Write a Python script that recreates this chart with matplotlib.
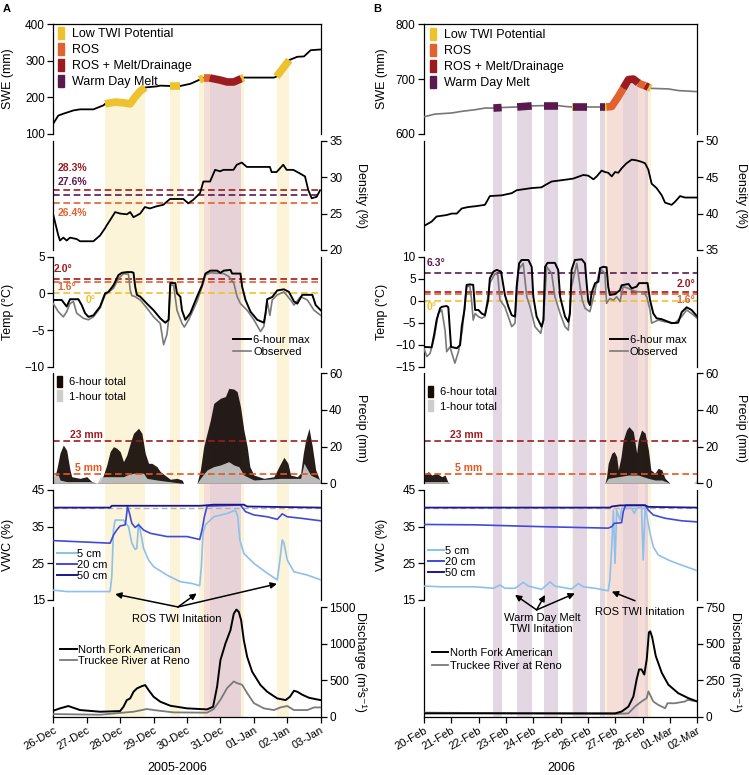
import numpy as np
import matplotlib.pyplot as plt
import matplotlib.transforms as mtransforms
from matplotlib.patches import Patch
from matplotlib.lines import Line2D

plt.rcParams['font.family'] = ['Liberation Sans', 'DejaVu Sans']
plt.rcParams['axes.linewidth'] = 0.9

# colours of the event classes and their background shading
YEL, ROS, RMD, WDM = '#EEC22E', '#E0622F', '#9B1C20', '#5B1A4F'
SH_YEL, SH_ROS, SH_RMD, SH_WDM = '#FBF4D8', '#F5DED8', '#E7D3D7', '#E3D7E3'
C5, C20, C50 = '#8DC0EC', '#3F4BD8', '#1C168C'

# ---------------- panel A : 26-Dec-2005 .. 03-Jan-2006 (days since 26-Dec)
a_dates = ['26-Dec', '27-Dec', '28-Dec', '29-Dec', '30-Dec', '31-Dec', '01-Jan', '02-Jan', '03-Jan']

a_yel = [(1.55, 2.75), (3.48, 3.80), (4.37, 4.50), (5.62, 5.70), (6.68, 7.06)]
a_ros = [(4.50, 4.68)]
a_rmd = [(4.68, 5.62)]

a_swe_x = [0, 0.15, 0.30, 0.60, 0.80, 1.20, 1.50, 1.55, 1.85, 2.10, 2.30, 2.45, 2.60, 2.75, 3.10, 3.20, 3.48, 3.80,
           4.10, 4.30, 4.37, 4.50, 4.68, 5.00, 5.20, 5.40, 5.62, 5.70, 6.60, 6.68, 7.06, 7.30, 7.50, 7.70, 8.00]
a_swe_y = [128, 150, 155, 164, 167, 167, 178, 182, 187, 185, 182, 201, 217, 227, 230, 232, 231, 231,
           237, 245, 248, 253, 253, 247, 242, 242, 251, 254, 254, 257, 302, 311, 312, 329, 331]

a_den_x = [0, 0.15, 0.20, 0.30, 0.40, 0.50, 0.70, 0.80, 1.20, 1.40, 1.55, 1.60, 1.70, 1.85, 2.00, 2.20, 2.30, 2.40,
           2.60, 2.74, 2.89, 3.09, 3.29, 3.39, 3.49, 3.89, 4.04, 4.19, 4.39, 4.49, 4.69, 4.84, 4.99, 5.09, 5.39,
           5.49, 5.64, 5.79, 6.48, 6.53, 6.68, 6.88, 6.98, 7.18, 7.38, 7.53, 7.63, 7.73, 7.88, 7.98]
a_den_y = [24.8, 22.0, 21.3, 21.7, 21.3, 21.7, 21.5, 21.2, 21.2, 22.0, 23.0, 23.4, 24.1, 25.2, 25.0, 24.9, 25.2, 24.5,
           25.0, 25.9, 25.7, 26.0, 26.2, 26.6, 27.0, 27.0, 26.4, 26.9, 27.8, 29.4, 29.4, 31.0, 30.8, 31.0, 31.0,
           31.7, 32.0, 31.4, 31.4, 30.7, 30.7, 31.7, 31.0, 31.0, 30.5, 30.1, 28.2, 27.1, 27.3, 28.2]

a_tmax_x = [0, 0.25, 0.40, 0.50, 0.75, 0.85, 0.95, 1.05, 1.20, 1.40, 1.55, 1.65, 1.80, 1.95, 2.05, 2.20, 2.35, 2.40,
            2.45, 2.50, 2.60, 2.80, 3.00, 3.20, 3.35, 3.45, 3.50, 3.65, 3.70, 3.80, 3.85, 3.95, 4.10, 4.30, 4.45,
            4.55, 4.70, 4.90, 5.00, 5.10, 5.30, 5.35, 5.60, 5.65, 5.75, 5.90, 6.10, 6.30, 6.35, 6.40, 6.55, 6.70,
            6.90, 7.05, 7.20, 7.30, 7.45, 7.75, 7.85, 8.00]
a_tmax_y = [-0.9, -0.9, -1.8, -0.8, -0.8, -1.6, -2.7, -3.2, -3.0, -1.8, 0.0, 0.2, 1.1, 2.5, 2.8, 2.9, 2.9, 2.8,
            0.9, -0.2, -0.45, -1.4, -2.3, -3.4, -4.0, -3.6, 1.4, 1.4, 0.0, -0.45, -2.3, -3.6, -2.7, -0.45, 1.1,
            2.7, 3.1, 3.1, 2.8, 3.1, 3.2, 2.7, 2.7, 0.9, -0.9, -2.5, -3.6, -4.0, -2.7, -0.8, -0.5, 0.4,
            0.55, 0.2, -1.1, -1.4, -0.2, -0.2, -1.6, -2.3]
a_tobs_x = [0, 0.15, 0.30, 0.40, 0.50, 0.60, 0.70, 0.90, 1.05, 1.20, 1.40, 1.55, 1.80, 1.95, 2.10, 2.25, 2.30, 2.35,
            2.45, 2.60, 2.80, 3.00, 3.20, 3.30, 3.40, 3.45, 3.50, 3.60, 3.70, 3.85, 3.92, 4.05, 4.30, 4.45, 4.55,
            4.70, 5.10, 5.25, 5.40, 5.50, 5.60, 5.80, 6.00, 6.20, 6.30, 6.40, 6.48, 6.55, 6.70, 6.90, 7.10, 7.20,
            7.40, 7.60, 7.80, 8.00]
a_tobs_y = [-1.4, -2.5, -3.2, -2.5, -1.4, -1.1, -2.7, -3.4, -3.6, -3.2, -2.0, -0.2, 0.7, 2.0, 2.7, 2.6, 0.45, -0.3,
            -0.45, -0.9, -2.0, -3.2, -4.1, -7.0, -5.6, -3.6, 1.1, 1.1, -2.3, -4.1, -4.6, -3.6, -1.1, 0.9, 2.5,
            2.8, 2.7, 2.3, 1.4, -0.45, -1.4, -2.3, -3.6, -5.2, -4.5, -1.1, -3.0, -0.9, -0.2, 0.2, -0.9, -1.6,
            -0.45, -0.9, -2.3, -3.0]

a_p6_x = [0, 0.10, 0.20, 0.30, 0.40, 0.50, 0.55, 0.80, 1.00, 1.15, 1.30, 1.40, 1.50, 1.60, 1.70, 1.80, 1.90, 2.00,
          2.10, 2.20, 2.30, 2.40, 2.55, 2.65, 2.75, 2.85, 2.95, 3.10, 3.20, 3.40, 3.50, 3.70, 3.85, 3.90, 4.30,
          4.40, 4.50, 4.60, 4.70, 4.80, 5.00, 5.15, 5.25, 5.40, 5.50, 5.60, 5.70, 5.80, 5.88, 6.00, 6.30, 6.60,
          6.75, 6.90, 7.02, 7.10, 7.30, 7.40, 7.48, 7.55, 7.65, 7.75, 7.85, 7.95, 8.00]
a_p6_y = [0.9, 7.3, 16.4, 20.9, 18.0, 7.3, 3.6, 2.7, 3.6, 0.9, 0, 0.9, 4.5, 10.0, 17.3, 20.0, 19.1, 17.3,
          11.8, 15.5, 21.8, 27.3, 30.0, 27.3, 16.4, 10.9, 10.9, 9.1, 6.4, 3.6, 2.2, 2.7, 1.8, 0, 0,
          7.3, 20.0, 27.3, 34.5, 43.6, 46.4, 47.3, 51.8, 51.4, 50.0, 41.8, 29.1, 20.0, 9.1, 4.5, 2.7, 3.6,
          9.1, 14.2, 10.9, 4.5, 3.6, 5.5, 16.4, 23.6, 30.0, 20.0, 7.3, 2.7, 0.9]
a_p1_x = [0, 0.15, 0.20, 0.40, 1.10, 1.30, 1.40, 2.10, 2.20, 2.40, 2.70, 2.80, 3.10, 3.85, 4.30,
          4.40, 4.60, 4.80, 5.00, 5.25, 5.40, 5.55, 5.70, 6.00, 6.80, 7.00, 7.40, 7.50, 7.70, 8.00]
a_p1_y = [4.5, 4.5, 1.8, 0.9, 0.9, 0, 3.6, 3.6, 4.5, 5.5, 5.5, 2.7, 1.8, 0, 0,
          2.7, 7.3, 9.1, 10.0, 11.8, 10.0, 9.1, 4.5, 1.8, 2.7, 2.7, 2.7, 10.9, 4.5, 1.8]

a_v50_x = [0, 1.70, 1.75, 4.40, 4.55, 4.80, 5.70, 5.80, 8.00]
a_v50_y = [40.2, 40.2, 40.7, 40.7, 40.8, 41.0, 41.0, 40.5, 40.2]
a_v20_x = [0, 1.70, 1.80, 1.90, 2.00, 2.15, 2.18, 2.22, 2.28, 2.35, 2.45, 2.55, 2.70, 2.90, 3.40, 4.00, 4.38,
           4.45, 4.52, 4.60, 5.60, 5.75, 6.00, 6.40, 6.70, 6.85, 7.00, 7.40, 8.00]
a_v20_y = [31.2, 30.5, 32.7, 34.1, 35.2, 35.5, 37.3, 40.5, 38.6, 35.9, 34.8, 35.5, 34.1, 33.2, 32.3, 32.3, 31.5,
           34.1, 37.7, 40.6, 40.9, 39.1, 38.2, 37.7, 37.0, 38.5, 37.7, 37.3, 36.6]
a_v5_x = [0, 0.40, 1.70, 1.75, 1.80, 1.85, 2.10, 2.25, 2.35, 2.45, 2.50, 2.55, 2.60, 2.70, 2.85, 3.00, 3.40, 3.80,
          4.15, 4.38, 4.43, 4.48, 4.55, 4.80, 5.20, 5.45, 5.52, 5.58, 5.70, 6.00, 6.40, 6.70, 6.78, 6.85, 6.90,
          7.00, 7.20, 7.60, 8.00]
a_v5_y = [17.7, 17.3, 17.3, 21.4, 34.1, 36.8, 36.8, 35.0, 30.5, 28.8, 29.1, 35.9, 34.1, 29.1, 25.9, 24.1, 21.8, 20.0,
          19.5, 18.9, 24.1, 33.2, 35.5, 37.7, 38.6, 39.5, 37.7, 31.4, 27.7, 25.0, 22.3, 20.5, 25.9, 31.4, 30.5,
          25.9, 22.7, 21.8, 20.5]

a_nfa_x = [0, 0.20, 0.45, 0.55, 0.80, 1.40, 2.00, 2.10, 2.20, 2.30, 2.40, 2.50, 2.65, 2.75, 2.85, 3.00, 3.20, 3.50,
           4.00, 4.60, 4.78, 4.90, 5.00, 5.15, 5.30, 5.40, 5.48, 5.55, 5.62, 5.70, 5.80, 5.95, 6.20, 6.40, 6.70,
           6.95, 7.08, 7.20, 7.30, 7.45, 7.65, 7.85, 8.00]
a_nfa_y = [82, 114, 146, 130, 91, 68, 77, 136, 227, 250, 341, 386, 418, 432, 364, 273, 205, 150,
           114, 100, 136, 409, 773, 1001, 1183, 1410, 1465, 1432, 1319, 1046, 818, 614, 432, 341, 250,
           227, 273, 355, 341, 300, 259, 240, 227]
a_tru_x = [0, 1.40, 2.40, 2.80, 3.00, 3.60, 4.60, 4.80, 5.00, 5.20, 5.40, 5.50, 5.65, 5.80, 6.00, 6.30, 6.60,
           6.80, 7.00, 7.20, 7.60, 7.80, 8.00]
a_tru_y = [36, 27, 68, 105, 91, 59, 55, 105, 232, 391, 482, 459, 436, 323, 186, 114, 91,
           127, 146, 91, 91, 127, 127]

# ---------------- panel B : 20-Feb-2006 .. 02-Mar-2006 (days since 20-Feb)
b_dates = ['20-Feb', '21-Feb', '22-Feb', '23-Feb', '24-Feb', '25-Feb', '26-Feb', '27-Feb', '28-Feb', '01-Mar', '02-Mar']

b_wdm = [(2.54, 2.84), (3.41, 3.94), (4.40, 4.91), (5.46, 5.95), (6.45, 6.62)]
b_yel = [(5.40, 5.46), (6.62, 6.68), (8.21, 8.30)]
b_ros = [(6.68, 7.29), (7.84, 8.09)]
b_rmd = [(7.29, 7.84), (8.09, 8.21)]

b_swe_x = [0, 0.40, 1.01, 1.38, 1.87, 2.23, 2.54, 2.84, 3.41, 3.94, 4.40, 4.91, 5.15, 5.40, 5.46, 5.95, 6.45,
           6.62, 6.68, 6.87, 6.99, 7.11, 7.29, 7.48, 7.66, 7.84, 7.96, 8.09, 8.21, 8.30, 8.94, 9.30, 10.0]
b_swe_y = [631, 636, 638, 641, 644, 647, 647, 648, 649, 651, 651.5, 651.5, 650, 649, 649, 649, 649,
           649, 649, 650, 659, 668, 683, 699, 700, 693, 690, 688, 685, 683, 682, 679, 677]

b_den_x = [0, 0.28, 0.46, 0.65, 0.83, 1.01, 1.20, 1.38, 1.62, 1.87, 2.23, 2.41, 2.84, 3.21, 3.39, 3.94, 4.30, 4.43,
           4.67, 5.28, 5.46, 5.83, 6.01, 6.20, 6.32, 6.50, 6.62, 6.74, 6.87, 6.99, 7.11, 7.23, 7.41, 7.60, 7.78,
           7.96, 8.09, 8.21, 8.33, 8.51, 8.70, 8.82, 9.06, 9.18, 9.37, 9.55, 10.0]
b_den_y = [38.3, 38.9, 39.6, 39.7, 39.8, 40.0, 40.0, 40.7, 40.9, 41.0, 41.2, 42.4, 42.5, 42.8, 43.2, 43.5, 43.6, 43.9,
           44.4, 44.7, 44.8, 45.3, 45.2, 44.7, 45.1, 45.9, 45.7, 45.6, 45.1, 45.7, 45.6, 46.2, 46.9, 47.4, 47.3,
           47.1, 46.9, 46.0, 44.1, 43.5, 42.5, 41.5, 41.2, 41.6, 42.4, 42.2, 42.2]

b_tmax_x = [0, 0.28, 0.38, 0.46, 0.59, 0.65, 0.83, 0.89, 0.99, 1.20, 1.32, 1.38, 1.48, 1.56, 1.68, 1.80, 1.87,
            1.99, 2.11, 2.23, 2.35, 2.41, 2.54, 2.66, 2.82, 2.96, 3.09, 3.21, 3.33, 3.39, 3.48, 3.57, 3.82, 3.94,
            4.00, 4.12, 4.30, 4.37, 4.43, 4.52, 4.79, 4.91, 4.98, 5.16, 5.28, 5.34, 5.40, 5.52, 5.77, 5.89, 5.95,
            6.01, 6.07, 6.13, 6.26, 6.38, 6.44, 6.56, 6.68, 6.74, 6.80, 6.99, 7.17, 7.23, 7.48, 7.60, 7.78, 7.87,
            8.18, 8.27, 8.39, 8.51, 8.70, 8.82, 9.06, 9.30, 9.43, 9.61, 9.79, 10.0]
b_tmax_y = [-10.5, -10.6, -7.4, -4.4, -1.7, -1.4, -1.2, -1.5, -10.5, -10.8, -10.1, -5.9, -2.1, 3.6, 3.7, 3.6, -2.1,
            -2.1, -2.9, -3.3, 0.15, 5.1, 6.6, 7.0, 6.6, 1.3, -1.4, -3.3, -3.6, 3.2, 8.5, 9.25, 9.25, 7.7,
            0.9, -3.6, -5.9, -4.4, 7.7, 8.6, 8.6, 7.0, 0.9, -3.6, -4.8, -2.9, 7.0, 9.25, 9.4, 8.5, 4.0,
            -0.2, -1.0, 1.7, 4.0, 4.3, 7.4, 7.7, 7.6, 3.2, 1.3, 1.5, 2.4, 3.5, 3.8, 2.8, 3.2, 4.0,
            4.0, 0.15, -2.9, -4.0, -4.2, -4.5, -5.1, -5.0, -2.6, -1.5, -2.1, -3.6]
b_tobs_x = [0, 0.10, 0.22, 0.38, 0.52, 0.65, 0.77, 0.83, 0.95, 1.13, 1.26, 1.40, 1.56, 1.68, 1.74, 1.80, 1.87,
            1.99, 2.11, 2.23, 2.41, 2.60, 2.70, 2.78, 2.96, 3.21, 3.33, 3.45, 3.63, 3.76, 3.88, 4.06, 4.27, 4.37,
            4.49, 4.67, 4.79, 4.98, 5.16, 5.28, 5.40, 5.59, 5.71, 5.79, 5.89, 6.07, 6.26, 6.40, 6.50, 6.62, 6.68,
            6.80, 6.93, 7.05, 7.17, 7.29, 7.48, 7.60, 7.84, 8.02, 8.15, 8.27, 8.33, 8.57, 8.82, 9.18, 9.43, 9.61,
            9.79, 10.0]
b_tobs_y = [-10.8, -12.7, -12.0, -8.2, -2.9, -2.1, -6.7, -11.6, -10.5, -14.2, -11.6, -6.7, 3.2, 3.3, 0.15, -4.4, -2.9,
            -3.6, -4.0, -3.6, 4.0, 6.2, 5.8, 0.15, -1.4, -5.9, -5.1, 7.0, 8.5, 0.9, -1.4, -5.9, -7.4, -4.4,
            7.7, 6.2, 0.9, -2.9, -5.9, -6.7, 3.2, 8.5, 3.2, 0.15, -1.7, -2.5, 2.4, 6.2, 7.0, 6.2, -0.6,
            0.5, 0.15, 0.9, -0.2, 3.2, 2.8, 2.4, 2.0, 2.0, 0.9, -2.1, -5.1, -4.4, -4.8, -5.1, -3.6, -2.1,
            -2.9, -4.0]

b_p6_x = [0, 0.16, 0.28, 0.46, 0.65, 0.77, 0.87, 0.92, 6.62, 6.68, 6.74, 6.87, 6.96, 7.05, 7.11, 7.21, 7.29, 7.41,
          7.50, 7.66, 7.78, 7.84, 7.96, 8.09, 8.21, 8.30, 8.45, 8.57, 8.70, 8.82, 8.94, 9.00, 9.90, 9.97, 10.0]
b_p6_y = [4.5, 6.4, 4.5, 5.5, 3.6, 4.5, 0.9, 0, 0, 3.6, 10.9, 16.4, 17.3, 14.5, 7.3, 14.5, 23.6, 29.1,
          30.9, 28.2, 16.4, 23.6, 29.1, 27.3, 18.2, 7.3, 5.5, 8.2, 7.3, 2.7, 0.9, 0, 0, 0.9, 0.9]
b_p1_x = [0, 0.90, 0.92, 6.62, 6.74, 7.11, 7.48, 7.84, 8.21, 8.45, 8.70, 8.94, 9.00, 9.85, 9.95, 10.0]
b_p1_y = [0.9, 0.9, 0, 0, 2.7, 3.6, 4.5, 4.5, 2.7, 1.8, 1.8, 0.4, 0, 0, 1.8, 1.8]

b_v50_x = [0, 6.80, 6.87, 7.17, 8.09, 8.21, 10.0]
b_v50_y = [40.2, 40.2, 40.5, 40.8, 40.8, 40.4, 40.2]
b_v20_x = [0, 1.87, 4.30, 6.74, 6.87, 6.96, 7.23, 7.29, 7.38, 8.09, 8.21, 8.39, 8.82, 9.43, 10.0]
b_v20_y = [35.6, 35.5, 35.0, 34.6, 35.0, 35.9, 36.1, 39.1, 40.9, 40.9, 39.5, 38.2, 37.3, 36.6, 36.3]
b_v5_x = [0, 0.65, 1.87, 2.54, 2.78, 2.96, 3.33, 3.63, 3.82, 4.30, 4.61, 4.79, 5.40, 5.65, 5.83, 6.26, 6.74,
          6.80, 6.87, 6.93, 6.99, 7.05, 7.17, 7.23, 7.60, 7.70, 7.78, 7.96, 8.02, 8.09, 8.18, 8.27, 8.39, 8.57,
          8.94, 9.43, 10.0]
b_v5_y = [18.8, 18.6, 18.6, 18.2, 19.1, 18.2, 18.2, 19.8, 18.8, 17.9, 19.9, 18.8, 18.0, 19.5, 18.6, 18.2, 17.5,
          20.5, 29.5, 39.5, 25.0, 39.5, 36.8, 40.0, 40.0, 38.6, 40.0, 40.2, 25.9, 40.2, 36.8, 33.2, 29.5, 27.3,
          25.9, 24.5, 23.0]

b_nfa_x = [0, 6.99, 7.23, 7.48, 7.66, 7.78, 7.87, 7.96, 8.06, 8.15, 8.23, 8.28, 8.35, 8.48, 8.70, 8.94, 9.30, 9.67, 10.0]
b_nfa_y = [23, 23, 35, 69, 138, 254, 323, 323, 288, 392, 577, 584, 542, 415, 300, 219, 161, 127, 104]
b_tru_x = [0, 6.99, 7.48, 7.72, 7.96, 8.15, 8.21, 8.27, 8.39, 8.57, 8.82, 8.91, 9.18, 9.55, 9.65, 10.0]
b_tru_y = [28, 18, 23, 69, 104, 127, 173, 150, 104, 81, 58, 92, 92, 104, 115, 104]

# thresholds
a_den_thr = [(28.3, RMD, '28.3%'), (27.6, WDM, '27.6%'), (26.4, ROS, '26.4%')]
a_tmp_thr = [(2.0, RMD), (1.6, ROS), (0.0, YEL)]
b_tmp_thr = [(6.3, WDM), (2.0, RMD), (1.6, ROS), (0.0, YEL)]
p_thr = [(23, RMD), (5, '#E8561C')]

W, H = 749, 775
fig = plt.figure(figsize=(W / 100, H / 100), dpi=100)

# pixel rows of every panel's tick range, and the side carrying ticks
ROWS = [(24.3, 133.8), (140.7, 250.0), (256.7, 366.7), (373.3, 483.3), (490.0, 600.0), (607.0, 716.7)]
SIDES = ['left', 'right', 'left', 'right', 'left', 'right']


def column(x0, x1, ndays, ticks_list, dates):
    axes = []
    n = len(ROWS)
    for i, (pt, pb) in enumerate(ROWS):
        at = pt if i == 0 else (ROWS[i - 1][1] + pt) / 2
        ab = pb if i == n - 1 else (pb + ROWS[i + 1][0]) / 2
        ax = fig.add_axes([x0 / W, 1 - ab / H, (x1 - x0) / W, (ab - at) / H])
        ticks = ticks_list[i]
        vb, vt = ticks[0], ticks[-1]
        s = (vt - vb) / (pb - pt)
        ax.set_ylim(vb - (ab - pb) * s, vt + (pt - at) * s)
        ax.set_xlim(0, ndays)
        ax.set_yticks(ticks)
        ax.set_facecolor('none')
        ax.spines['left'].set_bounds(vb, vt)
        ax.spines['right'].set_bounds(vb, vt)
        ax.spines['top'].set_visible(i == 0)
        ax.spines['bottom'].set_visible(i == n - 1)
        side = SIDES[i]
        ax.yaxis.set_label_position(side)
        ax.tick_params(axis='y', left=side == 'left', labelleft=side == 'left',
                       right=side == 'right', labelright=side == 'right',
                       direction='out', length=4, width=0.9, labelsize=8.5, pad=2)
        ax.tick_params(axis='x', bottom=i == n - 1, labelbottom=i == n - 1,
                       direction='out', length=4, width=0.9, labelsize=8, pad=2)
        axes.append(ax)
    axes[-1].set_xticks(range(ndays + 1))
    axes[-1].set_xticklabels(dates, rotation=30, ha='right', rotation_mode='anchor')
    return axes


def ylab(ax, text, xpos, mid):
    side = ax.yaxis.get_label_position()
    ax.set_ylabel(text, fontsize=9, rotation=90 if side == 'left' else 270, va='center', ha='center')
    tr = mtransforms.blended_transform_factory(ax.transAxes, ax.transData)
    ax.yaxis.set_label_coords(xpos, mid, transform=tr)


def shade(axes, spans, color):
    for ax in axes:
        for s, e in spans:
            ax.axvspan(s, e, color=color, lw=0, zorder=0)


def seg(ax, x, y, spans, color):
    x = np.asarray(x)
    y = np.asarray(y)
    for s, e in spans:
        m = (x >= s - 1e-6) & (x <= e + 1e-6)
        ax.plot(x[m], y[m], color=color, lw=5.5, solid_capstyle='butt', zorder=4)


def hline(ax, v, c):
    ax.axhline(v, color=c, lw=1.2, ls=(0, (4, 2.2)), zorder=2)


def leg(ax, handles, labels, px, py, fs=8, **kw):
    ax.legend(handles, labels, loc='upper left', bbox_to_anchor=(px / W, 1 - py / H),
              bbox_transform=fig.transFigure, frameon=False, fontsize=fs, borderpad=0,
              borderaxespad=0, **kw)


def arrow(ax_from, ax_to, start, end):
    ax_from.annotate('', xy=end, xycoords=ax_to.transData, xytext=start, textcoords=ax_to.transData,
                     arrowprops=dict(arrowstyle='-|>', color='black', lw=1.1, shrinkA=0, shrinkB=0,
                                     mutation_scale=9), annotation_clip=False)


swe_handles = [Patch(color=YEL), Patch(color=ROS), Patch(color=RMD), Patch(color=WDM)]
swe_labels = ['Low TWI Potential', 'ROS', 'ROS + Melt/Drainage', 'Warm Day Melt']
swe_kw = dict(handlelength=0.45, handleheight=1.1, handletextpad=0.7, labelspacing=0.22)

# ================= panel A
A = column(53.3, 320.7, 8, [[100, 200, 300, 400], [20, 25, 30, 35], [-10, -5, 0, 5], [0, 20, 40, 60],
                            [15, 25, 35, 45], [0, 500, 1000, 1500]], a_dates)
shade(A, a_yel, SH_YEL)
shade(A, a_ros, SH_ROS)
shade(A, a_rmd, SH_RMD)

ax = A[0]
ax.fill_between(a_swe_x, a_swe_y, 400, color='white', lw=0, zorder=1)
ax.plot(a_swe_x, a_swe_y, color='black', lw=1.3, zorder=3)
seg(ax, a_swe_x, a_swe_y, a_yel, YEL)
seg(ax, a_swe_x, a_swe_y, a_ros, ROS)
seg(ax, a_swe_x, a_swe_y, a_rmd, RMD)
leg(ax, swe_handles, swe_labels, 58, 27, fs=9, **swe_kw)
ylab(ax, 'SWE (mm)', -0.17, 250)

ax = A[1]
for v, c, t in a_den_thr:
    hline(ax, v, c)
ax.plot(a_den_x, a_den_y, color='black', lw=1.3, zorder=3)
ax.text(0.14, 31.2, '28.3%', color=RMD, fontsize=7.5, fontweight='bold', va='center')
ax.text(0.14, 29.4, '27.6%', color=WDM, fontsize=7.5, fontweight='bold', va='center')
ax.text(0.14, 25.1, '26.4%', color=ROS, fontsize=7.5, fontweight='bold', va='center')
ylab(ax, 'Density (%)', 1.15, 27.5)

ax = A[2]
for v, c in a_tmp_thr:
    hline(ax, v, c)
ax.plot(a_tobs_x, a_tobs_y, color='#7a7a7a', lw=1.2, zorder=3)
ax.plot(a_tmax_x, a_tmax_y, color='black', lw=1.4, zorder=3)
ax.text(0.02, 3.3, '2.0°', color=RMD, fontsize=7.5, fontweight='bold', va='center')
ax.text(0.12, 0.9, '1.6°', color=ROS, fontsize=7.5, fontweight='bold', va='center')
ax.text(0.98, -0.9, '0°', color=YEL, fontsize=7.5, fontweight='bold', va='center')
leg(ax, [Line2D([], [], color='black', lw=1.4), Line2D([], [], color='#7a7a7a', lw=1.2)],
    ['6-hour max', 'Observed'], 233, 335, handlelength=1.6, handletextpad=0.2, labelspacing=0.2)
ylab(ax, 'Temp (°C)', -0.17, -2.5)

ax = A[3]
ax.fill_between(a_p6_x, a_p6_y, color='#150c08', alpha=0.93, lw=0, zorder=2)
ax.fill_between(a_p1_x, a_p1_y, color='#cdcdcd', alpha=0.9, lw=0, zorder=2)
for v, c in p_thr:
    hline(ax, v, c)
ax.text(0.5, 26.3, '23 mm', color=RMD, fontsize=7.5, fontweight='bold', va='center')
ax.text(0.65, 8.6, '5 mm', color='#E8561C', fontsize=7.5, fontweight='bold', va='center')
leg(ax, [Patch(color='#150c08'), Patch(color='#cdcdcd')], ['6-hour total', '1-hour total'], 57, 376,
    handlelength=0.45, handleheight=1.1, handletextpad=0.6, labelspacing=0.3)
ylab(ax, 'Precip (mm)', 1.15, 30)

ax = A[4]
ax.axhline(40, color='#b0b0b0', lw=1.0, ls=(0, (4, 2.5)), zorder=2)
ax.plot(a_v5_x, a_v5_y, color=C5, lw=1.2, zorder=3)
ax.plot(a_v20_x, a_v20_y, color=C20, lw=1.2, zorder=3)
ax.plot(a_v50_x, a_v50_y, color=C50, lw=1.3, zorder=3)
leg(ax, [Line2D([], [], color=C5, lw=1.4), Line2D([], [], color=C20, lw=1.4), Line2D([], [], color=C50, lw=1.4)],
    ['5 cm', '20 cm', '50 cm'], 56.7, 549, handlelength=1.8, handletextpad=0.05, labelspacing=0.08)
ylab(ax, 'VWC (%)', -0.17, 30)

ax = A[5]
ax.plot(a_tru_x, a_tru_y, color='#7a7a7a', lw=1.3, zorder=3)
ax.plot(a_nfa_x, a_nfa_y, color='black', lw=1.4, zorder=3)
leg(ax, [Line2D([], [], color='black', lw=1.4), Line2D([], [], color='#7a7a7a', lw=1.3)],
    ['North Fork American', 'Truckee River at Reno'], 60, 645, handlelength=1.5, handletextpad=0.15, labelspacing=0.1)
ylab(ax, 'Discharge (m³s⁻¹)', 1.15, 750)
ax.text(3.69, 1333, 'ROS TWI Initation', fontsize=8, ha='center', va='center')
for tgt in [(1.85, 16.6), (4.29, 16.8), (6.69, 19.4)]:
    arrow(ax, A[4], (3.73, 13.1), tgt)

# ================= panel B
B = column(424.0, 697.3, 10, [[600, 700, 800], [35, 40, 45, 50], [-15, -10, -5, 0, 5, 10], [0, 20, 40, 60],
                             [15, 25, 35, 45], [0, 250, 500, 750]], b_dates)
shade(B, b_wdm, SH_WDM)
shade(B, b_yel, SH_YEL)
shade(B, b_ros, SH_ROS)
shade(B, b_rmd, SH_RMD)

ax = B[0]
ax.fill_between(b_swe_x, b_swe_y, 800, color='white', lw=0, zorder=1)
ax.plot(b_swe_x, b_swe_y, color='#777777', lw=1.2, zorder=3)
seg(ax, b_swe_x, b_swe_y, b_wdm, WDM)
seg(ax, b_swe_x, b_swe_y, b_yel, YEL)
seg(ax, b_swe_x, b_swe_y, b_ros, ROS)
seg(ax, b_swe_x, b_swe_y, b_rmd, RMD)
leg(ax, swe_handles, swe_labels, 430, 28, fs=9, **swe_kw)
ylab(ax, 'SWE (mm)', -0.155, 700)

ax = B[1]
ax.plot(b_den_x, b_den_y, color='black', lw=1.3, zorder=3)
ylab(ax, 'Density (%)', 1.16, 42.5)

ax = B[2]
for v, c in b_tmp_thr:
    hline(ax, v, c)
ax.plot(b_tobs_x, b_tobs_y, color='#7a7a7a', lw=1.2, zorder=3)
ax.plot(b_tmax_x, b_tmax_y, color='black', lw=1.4, zorder=3)
ax.text(0.1, 8.5, '6.3°', color=WDM, fontsize=7.5, fontweight='bold', va='center')
ax.text(9.92, 3.8, '2.0°', color=RMD, fontsize=7.5, fontweight='bold', va='center', ha='right')
ax.text(9.92, 0.2, '1.6°', color=ROS, fontsize=7.5, fontweight='bold', va='center', ha='right')
ax.text(0.1, -1.5, '0°', color=YEL, fontsize=7.5, fontweight='bold', va='center')
leg(ax, [Line2D([], [], color='black', lw=1.4), Line2D([], [], color='#7a7a7a', lw=1.2)],
    ['6-hour max', 'Observed'], 610, 335, handlelength=1.6, handletextpad=0.2, labelspacing=0.2)
ylab(ax, 'Temp (°C)', -0.155, -2.5)

ax = B[3]
ax.fill_between(b_p6_x, b_p6_y, color='#150c08', alpha=0.93, lw=0, zorder=2)
ax.fill_between(b_p1_x, b_p1_y, color='#cdcdcd', alpha=0.9, lw=0, zorder=2)
for v, c in p_thr:
    hline(ax, v, c)
ax.text(0.95, 26.3, '23 mm', color=RMD, fontsize=7.5, fontweight='bold', va='center')
ax.text(1.13, 8.6, '5 mm', color='#E8561C', fontsize=7.5, fontweight='bold', va='center')
leg(ax, [Patch(color='#150c08'), Patch(color='#cdcdcd')], ['6-hour total', '1-hour total'], 428, 386,
    handlelength=0.45, handleheight=1.1, handletextpad=0.6, labelspacing=0.3)
ylab(ax, 'Precip (mm)', 1.16, 30)

ax = B[4]
ax.axhline(40, color='#b0b0b0', lw=1.0, ls=(0, (4, 2.5)), zorder=2)
ax.plot(b_v5_x, b_v5_y, color=C5, lw=1.2, zorder=3)
ax.plot(b_v20_x, b_v20_y, color=C20, lw=1.2, zorder=3)
ax.plot(b_v50_x, b_v50_y, color=C50, lw=1.3, zorder=3)
leg(ax, [Line2D([], [], color=C5, lw=1.4), Line2D([], [], color=C20, lw=1.4), Line2D([], [], color=C50, lw=1.4)],
    ['5 cm', '20 cm', '50 cm'], 428, 546, handlelength=1.4, handletextpad=0.1, labelspacing=0.08)
ylab(ax, 'VWC (%)', -0.155, 30)

ax = B[5]
ax.plot(b_tru_x, b_tru_y, color='#7a7a7a', lw=1.3, zorder=3)
ax.plot(b_nfa_x, b_nfa_y, color='black', lw=1.4, zorder=3)
leg(ax, [Line2D([], [], color='black', lw=1.4), Line2D([], [], color='#7a7a7a', lw=1.3)],
    ['North Fork American', 'Truckee River at Reno'], 431.7, 648, handlelength=1.5, handletextpad=0.15, labelspacing=0.3)
ylab(ax, 'Discharge (m³s⁻¹)', 1.14, 375)
ax.text(4.31, 635, 'Warm Day Melt\nTWI Initation', fontsize=8, ha='center', va='center', linespacing=1.1)
ax.text(7.90, 718, 'ROS TWI Initation', fontsize=8, ha='center', va='center')
for tgt in [(3.33, 16.4), (4.43, 16.4), (5.52, 16.8)]:
    arrow(ax, B[4], (4.12, 12.3), tgt)
arrow(ax, B[4], (7.72, 14.8), (6.87, 17.3))

fig.text(177 / W, 1 - 768 / H, '2005-2006', fontsize=9, ha='center', va='center')
fig.text(561 / W, 1 - 768 / H, '2006', fontsize=9, ha='center', va='center')
fig.text(3 / W, 1 - 9 / H, 'A', fontsize=8, fontweight='bold', va='center')
fig.text(373 / W, 1 - 9 / H, 'B', fontsize=8, fontweight='bold', va='center')

fig.savefig('out.png', dpi=100, facecolor='white')
